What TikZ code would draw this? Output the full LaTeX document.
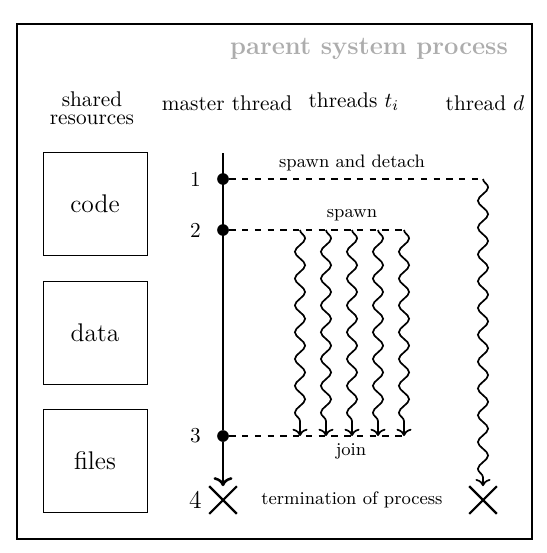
\documentclass[tikz,border=0pt]{standalone}
\usepackage{amsmath}
\usepackage{tikz}
\usetikzlibrary{shapes.misc,decorations.pathmorphing,positioning,arrows.meta}

\tikzset{
  resbox/.style = {draw, minimum width=48.9pt, minimum height=48.4pt, font=\large},
  master/.style = {line width=1.2pt},
  spawnline/.style = {thick, dashed},
  wave/.style = {thick, -{To}, decorate,
    decoration={snake, amplitude=2.4pt, segment length=12.6pt, post length=3pt}},
  dot/.style = {circle, fill, inner sep=0pt, minimum size=5.5pt},
  endmark/.style = {cross out, draw, thick, line width=1pt, inner sep=0pt, minimum size=12pt},
  evlabel/.style = {font=\fontsize{8.5}{10}\selectfont},
}

\begin{document}
\begin{tikzpicture}[x=0.47pt, y=-0.47pt]
  \useasboundingbox (0,0) rectangle (547,553);
  \draw[semithick] (17,24) rectangle (532,539);

  % headings
  \node[font=\large\bfseries, text=black!32] (title) at (369,49) {parent system process};
  \node[align=center, font=\fontsize{10}{8.5}\selectfont] (shared) at (92,108) {shared\\resources};
  \node (mth) at (227,103) {master thread};
  \node (tth) at (354,102) {threads $t_i$};
  \node (dth) at (485,103) {thread $d$};

  % shared resources
  \node[resbox] (code) at (95,204) {code};
  \node[resbox] (data) at (95,333) {data};
  \node[resbox] (files) at (95,461) {files};

  % master thread
  \coordinate (top) at (223,153);
  \node[dot] (s1) at (223,179) {};
  \node[dot] (s2) at (223,230) {};
  \node[dot] (j3) at (223,436) {};
  \node[endmark] (x4) at (223,500) {};
  \node[left=4pt of s1] {1};
  \node[left=4pt of s2] {2};
  \node[left=4pt of j3] {3};
  \node[left=0pt of x4, font=\large] {4};
  \draw[master] (top) -- (j3);
  \draw[master, -{To}] (j3) -- (x4.north);

  % detached thread d
  \coordinate (d1) at (483,179);
  \node[endmark] (xd) at (483,500) {};
  \draw[spawnline] (s1) -- (d1);
  \node[evlabel] (det) at (352,163) {spawn and detach};
  \draw[wave] (d1) -- (xd.north);

  % threads t_i
  \coordinate (sp) at (405,230);
  \coordinate (jn) at (405,436);
  \draw[spawnline] (s2) -- (sp);
  \draw[spawnline] (j3) -- (jn);
  \node[evlabel] (spw) at (352,215) {spawn};
  \node[evlabel] (join) at (351,451) {join};
  \foreach \x/\n in {300/1,326/2,352/3,378/4,404/5} {
    \coordinate (ta\n) at (\x,230);
    \coordinate (tb\n) at (\x,436);
    \draw[wave] (ta\n) -- (tb\n);
  }

  \node[evlabel] (term) at (352,500) {termination of process};
\end{tikzpicture}
\end{document}
